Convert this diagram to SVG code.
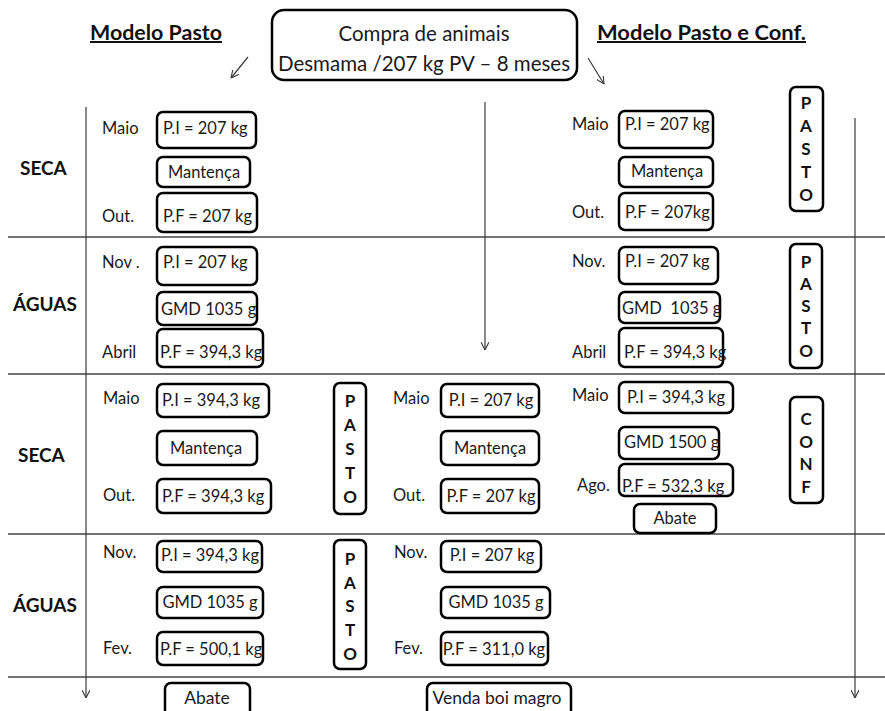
<svg xmlns="http://www.w3.org/2000/svg" width="885" height="711" viewBox="0 0 885 711">
<defs>
<style>
.bx{fill:#fff;stroke:#000;stroke-width:2.5}
.t{font-family:Lato,"Liberation Sans",sans-serif;font-size:16.5px;fill:#1a1a1a}
.m{text-anchor:middle}
.big{font-size:17.5px}
.hd{font-family:Lato,"Liberation Sans",sans-serif;font-weight:bold;font-size:20px;fill:#111;text-decoration:underline}
.sec{font-family:Lato,"Liberation Sans",sans-serif;font-weight:bold;font-size:19px;fill:#111}
.vl{font-family:Lato,"Liberation Sans",sans-serif;font-weight:bold;font-size:17px;fill:#111;text-anchor:middle}
.ti{font-family:Lato,"Liberation Sans",sans-serif;font-size:20.5px;fill:#1a1a1a;text-anchor:middle}
.grid{stroke:#444;stroke-width:1.3}
.cn{stroke:#3a3a3a;stroke-width:1.2;fill:none;marker-end:url(#ah)}
</style>
<marker id="ah" viewBox="0 0 10 10" refX="10" refY="5" markerWidth="8" markerHeight="8" markerUnits="userSpaceOnUse" orient="auto">
<path d="M0,0 L10,5 L0,10" fill="none" stroke="#3a3a3a" stroke-width="1.4"/>
</marker>
</defs>
<rect width="885" height="711" fill="#fff"/>

<g id="grid">
<line class="grid" x1="8" y1="237" x2="885" y2="237"/>
<line class="grid" x1="8" y1="374" x2="885" y2="374"/>
<line class="grid" x1="8" y1="534" x2="885" y2="534"/>
<line class="grid" x1="8" y1="677" x2="885" y2="677"/>
</g>

<g id="headers">
<text class="hd" x="90" y="40" textLength="132" lengthAdjust="spacingAndGlyphs">Modelo Pasto </text>
<text class="hd" x="597" y="40" textLength="209" lengthAdjust="spacingAndGlyphs">Modelo Pasto e Conf.</text>
<text class="sec" x="20" y="175">SECA</text>
<text class="sec" x="13" y="311">ÁGUAS</text>
<text class="sec" x="18" y="462">SECA</text>
<text class="sec" x="13" y="612">ÁGUAS</text>
</g>

<g id="connectors">
<line class="cn" x1="248" y1="57" x2="231" y2="78"/>
<line class="cn" x1="588" y1="58" x2="604" y2="84"/>
<line class="cn" x1="86" y1="107" x2="86" y2="698"/>
<line class="cn" x1="485" y1="102" x2="485" y2="350"/>
<line class="cn" x1="855" y1="118" x2="855" y2="698"/>
</g>

<g id="compra">
<rect class="bx" x="272" y="10" width="305" height="70" rx="12"/>
<text class="ti" x="424" y="41">Compra de animais</text>
<text class="ti" x="424" y="71">Desmama /207 kg PV – 8 meses</text>
</g>

<!-- Left column, row 1 -->
<g id="l1-pi"><text class="t" x="102" y="134">Maio</text><rect class="bx" x="157" y="112" width="99" height="36" rx="6"/><text class="t" x="163" y="134">P.I = 207 kg</text></g>
<g id="l1-m"><rect class="bx" x="157" y="157" width="93" height="30" rx="6"/><text class="t m" x="204" y="178">Mantença</text></g>
<g id="l1-pf"><text class="t" x="102" y="222">Out.</text><rect class="bx" x="157" y="193" width="100" height="39" rx="6"/><text class="t" x="163" y="222">P.F = 207 kg</text></g>

<!-- Left column, row 2 -->
<g id="l2-pi"><text class="t" x="102" y="268">Nov .</text><rect class="bx" x="157" y="247" width="100" height="38" rx="6"/><text class="t" x="163" y="268">P.I = 207 kg</text></g>
<g id="l2-g"><rect class="bx" x="157" y="292" width="100" height="33" rx="6"/><text class="t" x="161" y="315">GMD 1035 g</text></g>
<g id="l2-pf"><text class="t" x="102" y="358">Abril</text><rect class="bx" x="157" y="329" width="106" height="38" rx="6"/><text class="t" x="160" y="358">P.F = 394,3 kg</text></g>

<!-- Left column, row 3 -->
<g id="l3-pi"><text class="t" x="103" y="404">Maio</text><rect class="bx" x="157" y="384" width="112" height="33" rx="6"/><text class="t" x="162" y="406">P.I = 394,3 kg</text></g>
<g id="l3-m"><rect class="bx" x="157" y="431" width="100" height="34" rx="6"/><text class="t m" x="206" y="454">Mantença</text></g>
<g id="l3-pf"><text class="t" x="103" y="501">Out.</text><rect class="bx" x="157" y="479" width="114" height="34" rx="6"/><text class="t" x="162" y="502">P.F = 394,3 kg</text></g>
<g id="l3-pasto"><rect class="bx" x="334" y="383" width="32" height="131" rx="6"/>
<text class="vl"><tspan x="350" y="407">P</tspan><tspan x="350" y="431">A</tspan><tspan x="350" y="455">S</tspan><tspan x="350" y="479">T</tspan><tspan x="350" y="503">O</tspan></text></g>

<!-- Left column, row 4 -->
<g id="l4-pi"><text class="t" x="103" y="558">Nov.</text><rect class="bx" x="157" y="541" width="105" height="31" rx="6"/><text class="t" x="161" y="561">P.I = 394,3 kg</text></g>
<g id="l4-g"><rect class="bx" x="157" y="587" width="106" height="31" rx="6"/><text class="t m" x="210" y="608">GMD 1035 g</text></g>
<g id="l4-pf"><text class="t" x="103" y="654">Fev.</text><rect class="bx" x="157" y="632" width="106" height="33" rx="6"/><text class="t" x="160" y="655">P.F = 500,1 kg</text></g>
<g id="l4-pasto"><rect class="bx" x="334" y="540" width="32" height="129" rx="6"/>
<text class="vl"><tspan x="350" y="565">P</tspan><tspan x="350" y="589">A</tspan><tspan x="350" y="612">S</tspan><tspan x="350" y="636">T</tspan><tspan x="350" y="660">O</tspan></text></g>
<g id="l-abate"><rect class="bx" x="165" y="683" width="85" height="40" rx="6"/><text class="t m big" x="207" y="704">Abate</text></g>

<!-- Middle column -->
<g id="m3-pi"><text class="t" x="393" y="404">Maio</text><rect class="bx" x="441" y="384" width="98" height="33" rx="6"/><text class="t m" x="491" y="406">P.I = 207 kg</text></g>
<g id="m3-m"><rect class="bx" x="441" y="431" width="98" height="34" rx="6"/><text class="t m" x="490" y="454">Mantença</text></g>
<g id="m3-pf"><text class="t" x="393" y="501">Out.</text><rect class="bx" x="441" y="479" width="98" height="34" rx="6"/><text class="t m" x="491" y="502">P.F = 207 kg</text></g>
<g id="m4-pi"><text class="t" x="394" y="558">Nov.</text><rect class="bx" x="441" y="541" width="100" height="31" rx="6"/><text class="t m" x="492" y="561">P.I = 207 kg</text></g>
<g id="m4-g"><rect class="bx" x="441" y="587" width="109" height="31" rx="6"/><text class="t m" x="496" y="608">GMD 1035 g</text></g>
<g id="m4-pf"><text class="t" x="394" y="654">Fev.</text><rect class="bx" x="441" y="632" width="107" height="33" rx="6"/><text class="t m" x="494" y="655">P.F = 311,0 kg</text></g>
<g id="m-venda"><rect class="bx" x="427" y="683" width="144" height="40" rx="6"/><text class="t m big" x="497" y="704">Venda boi magro</text></g>

<!-- Right column, row 1 -->
<g id="r1-pi"><text class="t" x="572" y="130">Maio</text><rect class="bx" x="619" y="111" width="94" height="37" rx="6"/><text class="t" x="625" y="130">P.I = 207 kg</text></g>
<g id="r1-m"><rect class="bx" x="619" y="157" width="94" height="30" rx="6"/><text class="t m" x="667" y="177">Mantença</text></g>
<g id="r1-pf"><text class="t" x="572" y="218">Out.</text><rect class="bx" x="619" y="193" width="94" height="37" rx="6"/><text class="t" x="625" y="218">P.F = 207kg</text></g>
<g id="r1-pasto"><rect class="bx" x="790" y="87" width="33" height="124" rx="6"/>
<text class="vl"><tspan x="806" y="109">P</tspan><tspan x="806" y="132">A</tspan><tspan x="806" y="155">S</tspan><tspan x="806" y="178">T</tspan><tspan x="806" y="201">O</tspan></text></g>

<!-- Right column, row 2 -->
<g id="r2-pi"><text class="t" x="572" y="267">Nov.</text><rect class="bx" x="619" y="247" width="99" height="37" rx="6"/><text class="t" x="625" y="267">P.I = 207 kg</text></g>
<g id="r2-g"><rect class="bx" x="619" y="292" width="101" height="31" rx="6"/><text class="t" x="622" y="314" xml:space="preserve">GMD  1035 g</text></g>
<g id="r2-pf"><text class="t" x="572" y="358">Abril</text><rect class="bx" x="619" y="328" width="104" height="39" rx="6"/><text class="t" x="624" y="358">P.F = 394,3 kg</text></g>
<g id="r2-pasto"><rect class="bx" x="790" y="244" width="32" height="124" rx="6"/>
<text class="vl"><tspan x="806" y="268">P</tspan><tspan x="806" y="290">A</tspan><tspan x="806" y="312">S</tspan><tspan x="806" y="334">T</tspan><tspan x="806" y="357">O</tspan></text></g>

<!-- Right column, row 3 -->
<g id="r3-pi"><text class="t" x="572" y="401">Maio</text><rect class="bx" x="619" y="382" width="114" height="31" rx="6"/><text class="t m" x="676" y="403">P.I = 394,3 kg</text></g>
<g id="r3-g"><rect class="bx" x="619" y="427" width="100" height="32" rx="6"/><text class="t" x="624" y="448">GMD 1500 g</text></g>
<g id="r3-pf"><text class="t" x="577" y="491">Ago.</text><rect class="bx" x="619" y="464" width="114" height="32" rx="6"/><text class="t" x="622" y="492">P.F = 532,3 kg</text></g>
<g id="r3-conf"><rect class="bx" x="790" y="397" width="33" height="106" rx="6"/>
<text class="vl"><tspan x="806" y="425">C</tspan><tspan x="806" y="448">O</tspan><tspan x="806" y="470">N</tspan><tspan x="806" y="493">F</tspan></text></g>
<g id="r-abate"><rect class="bx" x="634" y="504" width="82" height="29" rx="6"/><text class="t m" x="675" y="524">Abate</text></g>
</svg>
